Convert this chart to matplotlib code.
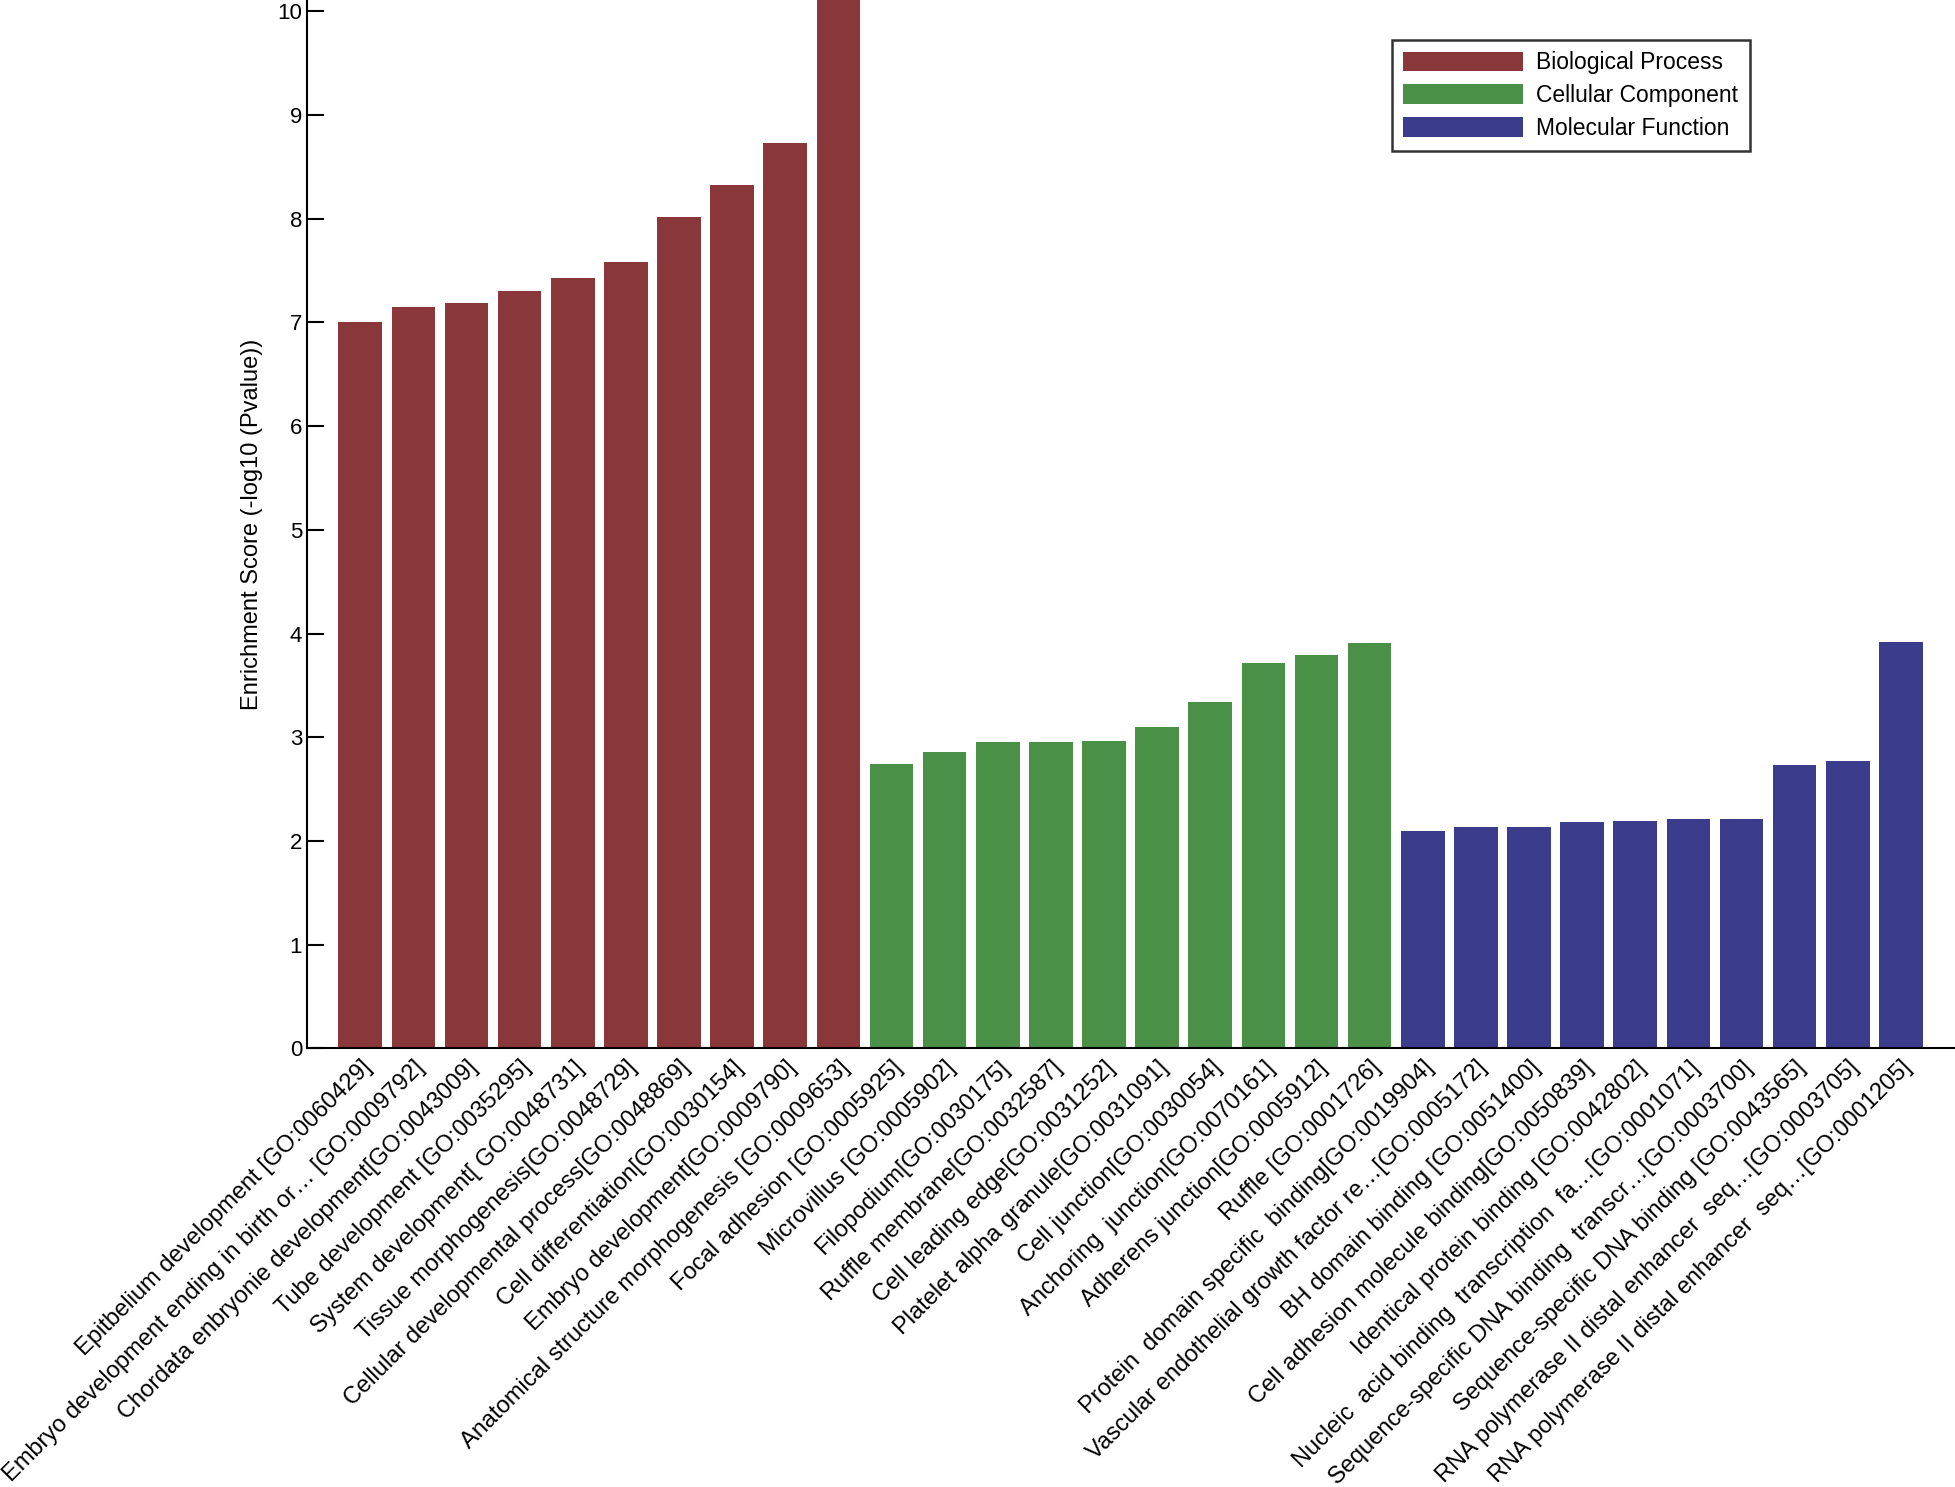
import matplotlib
matplotlib.use("Agg")
from matplotlib import pyplot as plt
from matplotlib.patches import Patch

plt.rcParams['font.family'] = ['Liberation Sans', 'DejaVu Sans']

# GO terms, in plot order
bp_terms = [
    "Epitbelium development [GO:0060429]",
    "Embryo development ending in birth or\u2026 [GO:0009792]",
    "Chordata enbryonie development[GO:0043009]",
    "Tube development [GO:0035295]",
    "System development[ GO:0048731]",
    "Tissue morphogenesis[GO:0048729]",
    "Cellular developmental process[GO:0048869]",
    "Cell differentiation[GO:0030154]",
    "Embryo development[GO:0009790]",
    "Anatomical structure morphogenesis [GO:0009653]",
]
bp_scores = [7.00, 7.15, 7.19, 7.30, 7.43, 7.58, 8.02, 8.33, 8.73, 10.5]

cc_terms = [
    "Focal adhesion [GO:0005925]",
    "Microvillus [GO:0005902]",
    "Filopodium[GO:0030175]",
    "Ruffle membrane[GO:0032587]",
    "Cell leading edge[GO:0031252]",
    "Platelet alpha granule[GO:0031091]",
    "Cell junction[GO:0030054]",
    "Anchoring  junction[GO:0070161]",
    "Adherens junction[GO:0005912]",
    "Ruffle [GO:0001726]",
]
cc_scores = [2.74, 2.86, 2.95, 2.95, 2.96, 3.10, 3.34, 3.72, 3.79, 3.91]

mf_terms = [
    "Protein  domain specific  binding[GO:0019904]",
    "Vascular endothelial growth factor re\u2026[GO:0005172]",
    "BH domain binding [GO:0051400]",
    "Cell adhesion molecule binding[GO:0050839]",
    "Identical protein binding [GO:0042802]",
    "Nucleic  acid binding  transcription  fa\u2026[GO:0001071]",
    "Sequence-specific DNA binding  transcr\u2026[GO:0003700]",
    "Sequence-specific DNA binding [GO:0043565]",
    "RNA polymerase II distal enhancer  seq\u2026[GO:0003705]",
    "RNA polymerase II distal enhancer  seq\u2026[GO:0001205]",
]
mf_scores = [2.10, 2.13, 2.13, 2.18, 2.19, 2.21, 2.21, 2.73, 2.77, 3.92]

categories = ["Biological Process", "Cellular Component", "Molecular Function"]
colors = ["#8a373a", "#4a9047", "#3b3d8c"]

terms = bp_terms + cc_terms + mf_terms
scores = bp_scores + cc_scores + mf_scores
bar_colors = ([colors[0]] * len(bp_terms) + [colors[1]] * len(cc_terms)
              + [colors[2]] * len(mf_terms))

fig = plt.figure(figsize=(19.56, 14.87), dpi=100)
ax = fig.add_axes([0.157, 0.295, 0.842, 0.705])

x = list(range(len(terms)))
ax.bar(x, scores, width=0.82, color=bar_colors)

ax.set_xlim(-1, len(terms))
ax.set_ylim(0, 10.11)
ax.set_yticks(range(0, 11))
ax.tick_params(axis='y', direction='in', length=12, width=1.5, labelsize=16)
ax.tick_params(axis='x', length=0, labelsize=17, pad=6)
ax.set_xticks(x)
ax.set_xticklabels(terms, rotation=45, ha='right', rotation_mode='anchor', va='top')

for side in ['top', 'right']:
    ax.spines[side].set_visible(False)
for side in ['left', 'bottom']:
    ax.spines[side].set_linewidth(1.5)

ax.set_ylabel("Enrichment Score (-log10 (Pvalue))", fontsize=17, labelpad=10)

handles = [Patch(facecolor=c, edgecolor='none', label=n) for c, n in zip(colors, categories)]
leg = ax.legend(handles=handles, loc='upper right', bbox_to_anchor=(0.876, 0.962),
                borderaxespad=0, fontsize=16.5, fancybox=False, frameon=True,
                handlelength=5.2, handleheight=0.95, labelspacing=0.42,
                borderpad=0.5, handletextpad=0.6)
leg.get_frame().set_edgecolor('black')
leg.get_frame().set_linewidth(1.8)

fig.savefig("out.png", dpi=100)
